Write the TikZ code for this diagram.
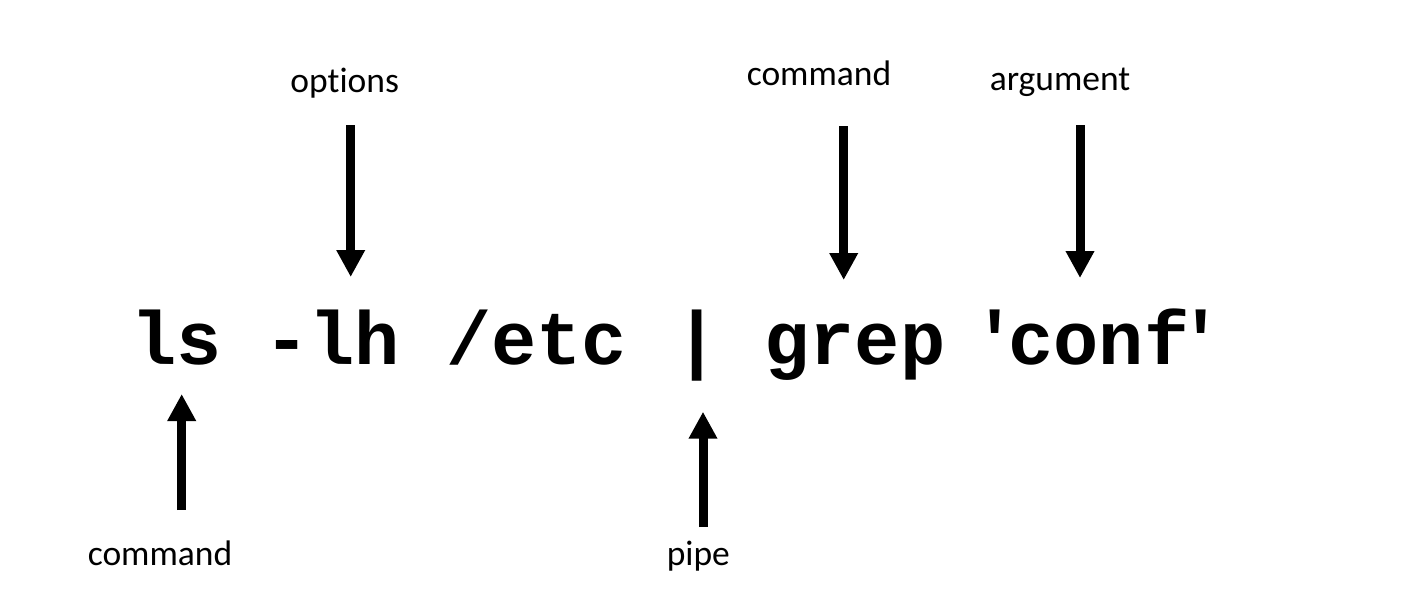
\documentclass[tikz,border=0pt]{standalone}
\usepackage{fontspec}
\setmainfont{Carlito}[Ligatures=NoCommon]
\newfontfamily\codefont{Liberation Mono}[Ligatures=TeXOff]
\usetikzlibrary{arrows.meta}
\tikzset{
  lbl/.style={font=\fontsize{35.5}{40}\selectfont, inner sep=0pt, anchor=base},
  tok/.style={font=\codefont\bfseries\fontsize{75.3}{80}\selectfont, inner sep=0pt, anchor=base west},
  qt/.style={tok, anchor=base},
  arr/.style={line width=9pt, -{Triangle[width=27pt,length=27pt]}}
}
\begin{document}
\begin{tikzpicture}[x=1pt,y=-1pt]
\useasboundingbox (0,0) rectangle (1410,598);
% command tokens
\node[tok] (ls)   at (131.6,364) {ls};
\node[tok] (opt)  at (264,364) {-lh};
\node[tok] (etc)  at (446,364) {/etc};
\node[tok] (pip)  at (674.5,364) {|};
\node[tok] (grep) at (764.4,364) {grep};
\node[qt]  (q1)   at (995,364) {\char39};
\node[tok] (conf) at (1008.3,364) {conf};
\node[qt]  (q2)   at (1201,364) {\char39};
% labels
\node[lbl] (Loptions) at (344.7,92.7) {options};
\node[lbl] (Lcmd2)    at (819,85)     {command};
\node[lbl] (Larg)     at (1060,90)    {argument};
\node[lbl] (Lcmd1)    at (160,565)    {command};
\node[lbl] (Lpipe)    at (698.3,565)  {pipe};
% arrow ends
\coordinate (optT) at (350.7,125);  \coordinate (optH) at (350.7,277);
\coordinate (c2T)  at (843.7,126);  \coordinate (c2H)  at (843.7,280);
\coordinate (argT) at (1080,125);   \coordinate (argH) at (1080,278);
\coordinate (c1T)  at (181.7,510);  \coordinate (c1H)  at (181.7,394);
\coordinate (pT)   at (703,527);    \coordinate (pH)   at (703,411.7);
\draw[arr] (optT) -- (optH);
\draw[arr] (c2T) -- (c2H);
\draw[arr] (argT) -- (argH);
\draw[arr] (c1T) -- (c1H);
\draw[arr] (pT) -- (pH);
\end{tikzpicture}
\end{document}
